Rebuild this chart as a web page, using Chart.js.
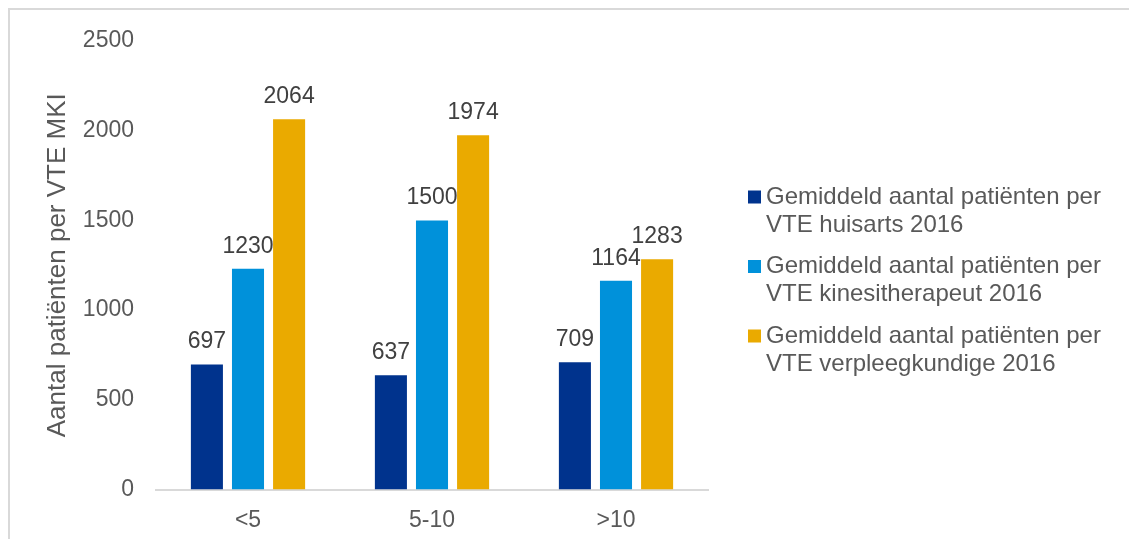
<!DOCTYPE html>
<html>
<head>
<meta charset="utf-8">
<title>Aantal patiënten per VTE MKI</title>
<script src="https://cdn.jsdelivr.net/npm/chart.js@4.4.1/dist/chart.umd.min.js"></script>
<style>
    body { margin: 0; background: #fff; }
    .wrap { position: relative; width: 1129px; height: 539px; overflow: hidden; }
    .frame { position: absolute; left: 8px; top: 8px; width: 1200px; height: 600px;
             border-left: 2px solid #d9d9d9; border-top: 2px solid #d9d9d9; }
    canvas { position: absolute; left: 0; top: 0; }
</style>
</head>
<body>
<div class="wrap">
    <div class="frame"></div>
    <canvas id="myChart"></canvas>
</div>
<script>
// data
let categories = ['<5', '5-10', '>10'];
let huisarts = [697, 637, 709];
let kinesitherapeut = [1230, 1500, 1164];
let verpleegkundige = [2064, 1974, 1283];
let seriesLabels = [
    ['Gemiddeld aantal patiënten per', 'VTE huisarts 2016'],
    ['Gemiddeld aantal patiënten per', 'VTE kinesitherapeut 2016'],
    ['Gemiddeld aantal patiënten per', 'VTE verpleegkundige 2016']
];
let yTicks = [0, 500, 1000, 1500, 2000, 2500];

let colors = ['#00338D', '#0091DA', '#EAAA00'];
let fontFamily = "'Liberation Sans', Arial, sans-serif";
let textGrey = '#595959';

// value labels above the bars
let valueLabels = {
    id: 'valueLabels',
    afterDatasetsDraw(chart) {
        let ctx = chart.ctx;
        ctx.save();
        ctx.font = '23px ' + fontFamily;
        ctx.fillStyle = '#404040';
        ctx.textAlign = 'center';
        ctx.textBaseline = 'alphabetic';
        chart.data.datasets.forEach((ds, i) => {
            chart.getDatasetMeta(i).data.forEach((bar, j) => {
                ctx.fillText(ds.data[j], bar.x, bar.y - 16);
            });
        });
        ctx.restore();
    }
};

// legend on the right, two lines per entry
let sideLegend = {
    id: 'sideLegend',
    afterDraw(chart) {
        let ctx = chart.ctx;
        let x = 748, y = 197;
        ctx.save();
        ctx.font = '24px ' + fontFamily;
        ctx.textBaseline = 'middle';
        ctx.textAlign = 'left';
        seriesLabels.forEach((lines, i) => {
            ctx.fillStyle = chart.data.datasets[i].backgroundColor;
            ctx.fillRect(x, y - 6.5, 13, 13);
            ctx.fillStyle = textGrey;
            lines.forEach((line, k) => {
                ctx.fillText(line, x + 18, y + k * 28);
            });
            y += 69.5;
        });
        ctx.restore();
    }
};

let diagramma = document.getElementById('myChart').getContext('2d');
let myChart = new Chart(diagramma, {
    type: 'bar',
    data: {
        labels: categories,
        datasets: [
            { label: seriesLabels[0].join(' '), data: huisarts, backgroundColor: colors[0] },
            { label: seriesLabels[1].join(' '), data: kinesitherapeut, backgroundColor: colors[1] },
            { label: seriesLabels[2].join(' '), data: verpleegkundige, backgroundColor: colors[2] }
        ]
    },
    options: {
        responsive: true,
        maintainAspectRatio: false,
        animation: false,
        categoryPercentage: 0.67,
        barPercentage: 0.78,
        layout: {
            padding: { left: 34, right: 421, top: 41, bottom: 0 }
        },
        plugins: {
            legend: false,
            tooltip: { enabled: false }
        },
        scales: {
            x: {
                afterFit: (scale) => { scale.height = 49.5; },
                grid: { display: false, drawTicks: false },
                border: { display: true, color: '#d9d9d9', width: 2 },
                ticks: {
                    color: textGrey,
                    padding: 17,
                    font: { family: fontFamily, size: 23 }
                }
            },
            y: {
                min: 0,
                max: 2500,
                afterBuildTicks: (scale) => {
                    scale.ticks = yTicks.map(v => ({ value: v }));
                },
                afterFit: (scale) => { scale.width = 122; },
                grid: { display: false, drawTicks: false },
                border: { display: false },
                ticks: {
                    color: textGrey,
                    padding: 22,
                    font: { family: fontFamily, size: 23 },
                    callback: (value) => String(value)
                },
                title: {
                    display: true,
                    text: 'Aantal patiënten per VTE MKI',
                    color: textGrey,
                    padding: { top: 8, bottom: 8 },
                    font: { family: fontFamily, size: 26 }
                }
            }
        }
    },
    plugins: [valueLabels, sideLegend]
});
</script>
</body>
</html>
